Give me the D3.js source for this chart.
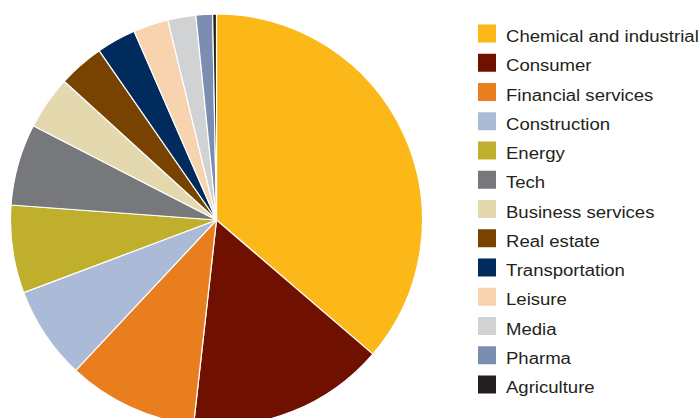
<!DOCTYPE html>
<html>
<head>
<meta charset="utf-8">
<script src="https://cdn.jsdelivr.net/npm/d3@7"></script>
<style>
  body { margin: 0; background: #fff; }
  svg { display: block; }
</style>
</head>
<body>
<div id="chart"></div>
<script>
// sector shares (percent)
const sectors = [
  'Chemical and industrial', 'Consumer', 'Financial services', 'Construction',
  'Energy', 'Tech', 'Business services', 'Real estate', 'Transportation',
  'Leisure', 'Media', 'Pharma', 'Agriculture',
];
const shares = [36.3, 15.5, 10.2, 7.3, 6.9, 6.4, 4.2, 3.6, 3.1, 2.75, 2.2, 1.3, 0.3];
const colours = [
  '#fbb818', '#701000', '#e87e1e', '#abbad6', '#bfaf2d', '#77787b', '#e4d9ae',
  '#784300', '#002b5c', '#f8d3b0', '#d1d2d4', '#7b8db2', '#231f20',
];

const width = 700;
const height = 418;
const radius = 206;
const center = { x: 216.5, y: 220 };

const data = sectors.map((name, i) => ({ name, value: shares[i] }));

const colour = d3.scaleOrdinal()
  .domain(sectors)
  .range(colours);

const svg = d3.select('#chart').append('svg')
  .attr('width', width)
  .attr('height', height);

const pie = d3.pie()
  .sort(null)
  .value(d => d.value);

const arc = d3.arc()
  .innerRadius(0)
  .outerRadius(radius);

svg.append('g')
  .attr('transform', `translate(${center.x}, ${center.y})`)
  .selectAll('path')
  .data(pie(data))
  .enter().append('path')
    .attr('d', arc)
    .attr('fill', d => colour(d.data.name))
    .attr('stroke', '#fff')
    .attr('stroke-width', 1.2)
    .attr('stroke-linejoin', 'round');

// legend
const row = d3.scaleBand()
  .domain(sectors)
  .range([24.5, 24.5 + 29.25 * sectors.length]);

const legend = svg.append('g')
  .attr('class', 'legend')
  .selectAll('g')
  .data(sectors)
  .enter().append('g')
    .attr('transform', d => `translate(478, ${row(d)})`);

legend.append('rect')
  .attr('width', 18)
  .attr('height', 18)
  .attr('fill', d => colour(d));

// the original lettering is a little wider than Liberation Sans
legend.append('text')
  .attr('transform', 'translate(28, 17.5) scale(1.16, 1)')
  .attr('font-family', '"Liberation Sans", Arial, sans-serif')
  .attr('font-size', '16px')
  .attr('fill', '#231f20')
  .text(d => d);
</script>
</body>
</html>
